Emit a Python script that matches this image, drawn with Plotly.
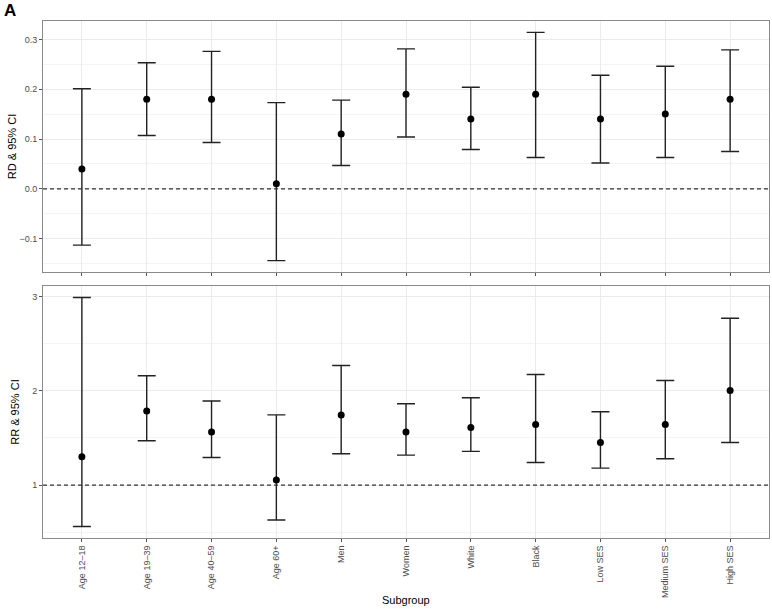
import plotly.graph_objects as go

categories = ["Age 12–18", "Age 19–39", "Age 40–59", "Age 60+", "Men", "Women",
              "White", "Black", "Low SES", "Medium SES", "High SES"]

rd = [0.04, 0.18, 0.18, 0.01, 0.11, 0.19, 0.14, 0.19, 0.14, 0.15, 0.18]
rd_lo = [-0.113, 0.107, 0.093, -0.144, 0.047, 0.104, 0.079, 0.063, 0.052, 0.063, 0.075]
rd_hi = [0.201, 0.253, 0.276, 0.173, 0.178, 0.281, 0.204, 0.314, 0.228, 0.246, 0.279]

rr = [1.30, 1.785, 1.562, 1.053, 1.742, 1.562, 1.611, 1.643, 1.452, 1.643, 2.003]
rr_lo = [0.56, 1.47, 1.293, 0.629, 1.332, 1.318, 1.357, 1.24, 1.18, 1.279, 1.452]
rr_hi = [2.99, 2.159, 1.891, 1.745, 2.268, 1.862, 1.926, 2.173, 1.777, 2.109, 2.77]

rd_ref = 0.0
rr_ref = 1.0

FONT = "Liberation Sans, Arial, sans-serif"
TICKCOL = "#4d4d4d"
GRID = "#ebebeb"
MINOR = "#f4f4f4"
BORDER = "#8a8a8a"
INK = "#222222"


def padded(lo, hi):
    a, b = min(lo), max(hi)
    p = 0.05 * (b - a)
    return [a - p, b + p]


def est_trace(vals, lo, hi, xa, ya):
    return go.Scatter(
        x=categories, y=vals, xaxis=xa, yaxis=ya, mode="markers",
        marker=dict(color="black", size=7),
        error_y=dict(type="data", symmetric=False,
                     array=[h - v for h, v in zip(hi, vals)],
                     arrayminus=[v - l for v, l in zip(vals, lo)],
                     color=INK, thickness=1.4, width=9),
        showlegend=False, hoverinfo="x+y",
    )


fig = go.Figure()
fig.add_trace(est_trace(rd, rd_lo, rd_hi, "x", "y"))
fig.add_trace(est_trace(rr, rr_lo, rr_hi, "x2", "y2"))

for xr, yr, ref in (("x domain", "y", rd_ref), ("x2 domain", "y2", rr_ref)):
    fig.add_shape(type="line", xref=xr, yref=yr, x0=0, x1=1, y0=ref, y1=ref,
                  line=dict(color="#333333", width=1.2, dash="4px,3px"), layer="above")

xcommon = dict(
    type="category", range=[-0.6, len(categories) - 0.4], automargin=False,
    showgrid=True, gridcolor=GRID, gridwidth=1,
    ticks="outside", ticklen=3, tickcolor="#555555",
    showline=True, linecolor=BORDER, mirror=True, zeroline=False,
    tickfont=dict(family=FONT, size=9, color=TICKCOL),
)
ycommon = dict(
    showgrid=True, gridcolor=GRID, gridwidth=1, zeroline=False, automargin=False,
    ticks="outside", ticklen=3, tickcolor="#555555",
    showline=True, linecolor=BORDER, mirror=True,
    tickfont=dict(family=FONT, size=9, color=TICKCOL),
)

fig.update_layout(
    width=772, height=609,
    margin=dict(l=43, r=3, t=21, b=71),
    paper_bgcolor="white", plot_bgcolor="white",
    font=dict(family=FONT, color="black"),
    xaxis=dict(xcommon, domain=[0, 1], anchor="y", showticklabels=False,
               matches="x2"),
    xaxis2=dict(xcommon, domain=[0, 1], anchor="y2", tickangle=-90),
    yaxis=dict(ycommon, domain=[0.5145, 1], anchor="x", range=padded(rd_lo, rd_hi),
               dtick=0.1, tick0=0, tickformat=".1f",
               minor=dict(showgrid=True, gridcolor=MINOR, dtick=0.05, tick0=0),
               title=dict(text="RD & 95% CI", font=dict(family=FONT, size=11), standoff=0)),
    yaxis2=dict(ycommon, domain=[0, 0.4874], anchor="x2", range=padded(rr_lo, rr_hi),
                dtick=1, tick0=0,
                minor=dict(showgrid=True, gridcolor=MINOR, dtick=0.5, tick0=0),
                title=dict(text="RR & 95% CI", font=dict(family=FONT, size=11), standoff=10)),
    annotations=[
        dict(text="<b>A</b>", xref="paper", yref="paper", x=-0.057, y=1.043,
             xanchor="left", yanchor="top", showarrow=False,
             font=dict(family=FONT, size=17, color="black")),
        dict(text="Subgroup", xref="paper", yref="paper", x=0.5, y=-0.12,
             xanchor="center", yanchor="middle", showarrow=False,
             font=dict(family=FONT, size=11, color="black")),
    ],
)

fig.write_html("out.html", config={"displayModeBar": False},
               post_script="document.body.style.margin='0px';")
